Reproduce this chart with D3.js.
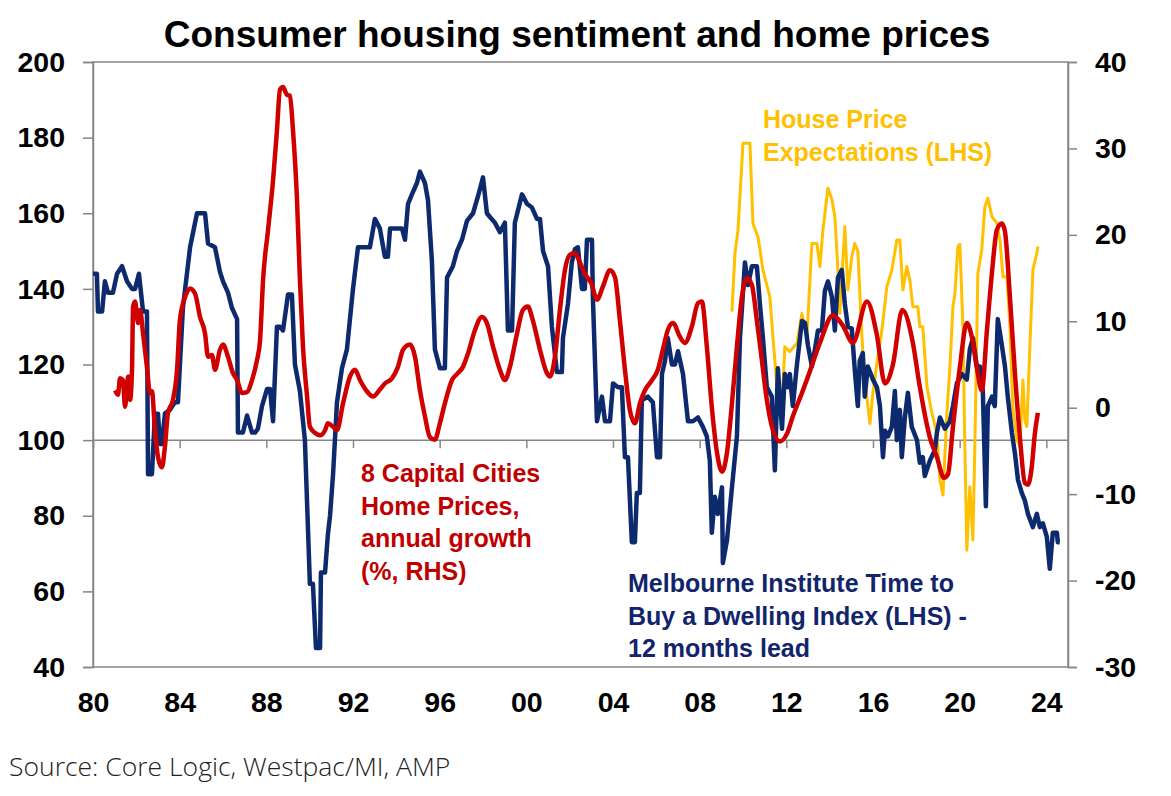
<!DOCTYPE html>
<html>
<head>
<meta charset="utf-8">
<script src="https://cdn.jsdelivr.net/npm/d3@7"></script>
<style>
  body { margin: 0; background: #fff; }
  text { font-family: Arial, "Liberation Sans", sans-serif; }
</style>
</head>
<body>
<script>
// Melbourne Institute time to buy a dwelling, 12 months lead (LHS)
var navy = [
  [1980.00,144],[1980.18,144],[1980.23,134],[1980.42,134],[1980.55,142],[1980.69,139],[1980.92,139],
  [1981.11,144],[1981.34,146],[1981.57,142],[1981.80,140],[1981.94,140],[1982.12,144],[1982.31,134],
  [1982.49,134],[1982.54,91],[1982.72,91],[1982.86,107],[1983.00,107],[1983.09,99],[1983.18,99],
  [1983.32,107],[1983.55,108],[1983.78,110],[1983.92,110],[1984.15,135],[1984.48,151],[1984.80,160],
  [1985.17,160],[1985.31,152],[1985.63,151],[1985.86,144.5],[1986.00,142],[1986.23,139],[1986.41,135],
  [1986.65,132],[1986.69,102],[1986.92,102],[1987.11,106.5],[1987.34,102],[1987.48,102],[1987.61,103],
  [1987.80,109],[1988.03,113.5],[1988.17,113.5],[1988.31,105],[1988.49,130],[1988.63,130],[1988.77,129],
  [1989.00,138.5],[1989.18,138.5],[1989.32,120],[1989.55,113],[1989.78,100],[1990.01,62],[1990.15,62],
  [1990.29,45],[1990.48,45],[1990.52,65],[1990.71,65],[1990.84,75],[1990.94,80],[1991.08,91],
  [1991.26,110],[1991.49,119],[1991.72,124],[1992.00,140],[1992.23,151],[1992.78,151],[1993.01,158.5],
  [1993.24,156],[1993.47,148.5],[1993.61,148.5],[1993.71,156],[1994.26,156],[1994.40,153],[1994.54,162.5],
  [1994.72,165],[1994.95,168],[1995.09,171],[1995.32,168],[1995.46,163.5],[1995.64,147.5],[1995.78,124],
  [1996.01,119],[1996.24,119],[1996.34,143],[1996.61,146],[1996.80,150],[1997.03,153],[1997.26,158],
  [1997.54,160],[1997.77,164.5],[1998.00,169.5],[1998.18,160],[1998.32,159],[1998.55,157.5],[1998.78,155],
  [1999.01,157.5],[1999.15,129],[1999.34,129],[1999.47,157.5],[1999.80,165],[2000.03,162.5],[2000.26,161.5],
  [2000.49,158.5],[2000.63,158.5],[2000.77,150],[2001.00,146],[2001.18,130],[2001.41,118],[2001.64,118],
  [2001.69,127],[2001.92,136],[2002.10,147],[2002.24,150.5],[2002.38,151],[2002.57,140],[2002.70,140],
  [2002.80,153],[2003.03,153],[2003.07,138],[2003.26,105],[2003.49,111.5],[2003.63,105],[2003.86,105],
  [2004.00,115],[2004.23,114],[2004.41,114],[2004.55,95.5],[2004.69,95.5],[2004.87,73],[2005.01,73],
  [2005.10,86],[2005.24,86],[2005.33,110.5],[2005.61,111.5],[2005.84,110],[2006.03,95.5],[2006.17,95.5],
  [2006.26,117.5],[2006.40,121],[2006.53,127],[2006.72,120],[2006.86,120],[2007.00,123.5],[2007.23,117.5],
  [2007.46,105],[2007.69,105],[2007.92,106],[2008.15,103.5],[2008.33,101],[2008.47,94.5],[2008.56,75.5],
  [2008.70,85],[2008.84,80.5],[2009.03,87.5],[2009.07,67.5],[2009.26,73.5],[2009.49,87.5],[2009.72,101],
  [2009.86,127],[2010.09,147],[2010.23,141],[2010.41,146],[2010.64,146],[2010.78,136],[2010.92,127],
  [2011.10,114],[2011.33,111.5],[2011.47,92],[2011.61,119],[2011.80,103],[2011.93,117.5],[2012.07,114],
  [2012.16,117.5],[2012.30,109],[2012.49,120],[2012.72,131.5],[2012.86,131],[2013.00,125],[2013.18,119.5],
  [2013.32,124],[2013.46,129],[2013.64,129],[2013.78,139.5],[2013.92,142],[2014.10,138],[2014.24,129],
  [2014.38,143],[2014.56,145],[2014.70,136],[2014.84,130],[2015.02,129.5],[2015.16,118.5],[2015.30,109],
  [2015.39,121],[2015.53,123],[2015.62,111.5],[2015.76,119.5],[2016.00,116],[2016.18,114],[2016.32,109],
  [2016.46,95.5],[2016.55,102.5],[2016.69,101],[2016.87,103.5],[2017.01,113],[2017.10,100],[2017.24,108],
  [2017.33,95.5],[2017.47,106],[2017.61,112.5],[2017.79,103.5],[2018.03,100],[2018.16,94],[2018.30,95.5],
  [2018.39,90.5],[2018.62,94.5],[2018.86,97.5],[2018.95,102],[2019.09,106],[2019.32,103],[2019.55,105],
  [2019.69,109],[2019.87,115],[2020.10,117.5],
  [2020.33,116],[2020.47,124],[2020.61,127],[2020.79,119.5],[2020.93,119.5],[2021.07,113],[2021.21,82.5],
  [2021.30,109],[2021.49,111.5],[2021.62,109],[2021.76,132],[2021.95,125],[2022.09,119.5],[2022.22,111.5],
  [2022.41,102],[2022.55,96.5],[2022.69,89.5],[2022.87,86],[2023.01,84],[2023.15,80.5],[2023.38,77],
  [2023.56,80.5],[2023.70,77],[2023.84,78],[2024.02,74.5],[2024.16,66],[2024.30,75.5],[2024.49,75.5],
  [2024.53,73],[2024.62,73]
];

// 8 capital cities home prices, annual growth % (RHS)
var red = [
  [1981.02,2.0],[1981.15,1.5],[1981.25,3.4],[1981.38,3.2],[1981.48,0.1],[1981.62,3.6],[1981.71,0.9],
  [1981.80,4.4],[1981.85,11.7],[1981.94,12.3],[1982.08,9.8],[1982.17,11.3],[1982.31,8.6],[1982.49,4.7],
  [1982.63,1.7],[1982.72,1.9],[1982.86,-2.6],[1983.00,-5.7],[1983.18,-6.9],[1983.32,-4.5],[1983.46,-0.6],
  [1983.69,0.9],[1983.88,4.4],[1984.01,10.1],[1984.25,12.8],[1984.48,13.8],[1984.71,13.2],[1984.94,10.5],
  [1985.17,8.6],[1985.31,5.9],[1985.49,6.1],[1985.63,4.4],[1985.86,6.7],[1986.00,7.3],[1986.23,5.9],
  [1986.46,4.0],[1986.65,3.2],[1986.88,1.7],[1987.11,1.8],[1987.34,3.2],[1987.57,5.5],[1987.71,7.8],
  [1987.85,14.8],[1988.08,20.6],[1988.31,26.3],[1988.49,32.1],[1988.63,36.8],[1988.77,37.1],[1988.95,36.2],
  [1989.09,36.1],[1989.23,32.1],[1989.41,24.4],[1989.55,14.8],[1989.69,7.1],[1989.88,1.3],[1990.01,-2.2],
  [1990.24,-2.9],[1990.48,-3.2],[1990.71,-2.6],[1990.84,-1.8],[1991.08,-2.2],[1991.26,-2.6],[1991.54,0.5],
  [1991.86,3.6],[1992.09,4.4],[1992.32,3.2],[1992.64,1.9],[1992.92,1.3],[1993.24,2.1],[1993.47,2.8],
  [1993.80,3.4],[1994.07,4.7],[1994.31,6.7],[1994.63,7.3],[1994.86,5.9],[1995.09,2.0],[1995.32,-1.0],
  [1995.55,-3.4],[1995.78,-3.7],[1996.01,-1.8],[1996.24,0.5],[1996.57,3.2],[1996.84,4.0],[1997.07,4.7],
  [1997.31,6.3],[1997.63,9.0],[1997.95,10.5],[1998.18,9.8],[1998.46,7.1],[1998.78,4.4],[1999.01,3.2],
  [1999.24,4.7],[1999.57,8.6],[1999.84,11.3],[2000.07,11.7],[2000.30,10.1],[2000.63,6.7],[2000.95,4.0],
  [2001.09,3.6],[2001.32,5.9],[2001.55,11.3],[2001.78,15.9],[2002.01,17.7],[2002.24,17.9],[2002.47,16.8],
  [2002.70,15.5],[2003.00,14.4],[2003.26,12.5],[2003.53,14.0],[2003.86,15.9],[2004.09,15.1],[2004.32,10.1],
  [2004.55,4.4],[2004.78,-0.3],[2005.01,-1.8],[2005.24,0.5],[2005.47,2.0],[2005.80,3.2],[2006.07,4.4],
  [2006.30,6.7],[2006.53,9.0],[2006.77,9.8],[2007.09,8.2],[2007.32,7.5],[2007.64,9.4],[2007.92,12.1],
  [2008.10,12.3],[2008.33,7.1],[2008.56,0.1],[2008.80,-5.2],[2009.03,-7.4],[2009.26,-5.2],[2009.49,0.5],
  [2009.72,7.1],[2009.95,12.8],[2010.18,15.0],[2010.41,14.2],[2010.64,10.1],[2010.87,5.5],[2011.10,0.9],
  [2011.38,-2.6],[2011.70,-3.9],[2012.03,-3.0],[2012.30,-1.0],[2012.72,1.7],[2013.00,3.6],[2013.55,7.5],
  [2014.15,10.7],[2014.61,9.5],[2015.07,7.5],[2015.72,12.3],[2016.18,8.4],[2016.55,2.8],[2016.92,5.0],
  [2017.35,11.3],[2017.84,7.5],[2018.16,2.4],[2018.62,-3.4],[2018.95,-5.7],[2019.27,-8.1],[2019.46,-7.7],
  [2019.69,-2.2],[2020.01,4.7],[2020.33,9.8],[2020.56,8.2],[2020.79,4.7],[2021.02,2.0],[2021.26,9.0],
  [2021.49,15.6],[2021.72,20.6],[2021.95,21.3],[2022.09,20.4],[2022.32,12.8],[2022.55,4.0],[2022.78,-3.4],
  [2023.01,-8.7],[2023.15,-8.9],[2023.33,-6.8],[2023.47,-3.0],[2023.61,-0.6]
];

// house price expectations (LHS)
var orange = [
  [2009.49,134],[2009.63,149.5],[2009.77,155.6],[2010.00,178.5],[2010.32,178.5],[2010.46,157.3],
  [2010.69,153.8],[2010.92,145],[2011.24,137.9],[2011.38,127.3],[2011.56,115],[2011.80,108.8],
  [2011.93,124.7],[2012.16,123.4],[2012.49,125.6],[2012.72,133.5],[2012.95,127.3],[2013.18,152],
  [2013.41,152],[2013.55,145.9],[2013.69,155.6],[2013.92,166.6],[2014.10,163.7],[2014.24,159.1],
  [2014.38,145],[2014.47,133.5],[2014.70,156.4],[2014.84,139.7],[2015.02,148.5],[2015.16,152],
  [2015.30,150],[2015.49,127.3],[2015.62,115.9],[2015.86,104.4],[2016.00,112.8],[2016.18,120.3],
  [2016.41,129.1],[2016.64,140.6],[2016.87,145],[2017.10,152.9],[2017.24,152.9],[2017.38,139.7],
  [2017.56,145.9],[2017.70,142.4],[2017.84,135.3],[2018.07,135.3],[2018.16,130],[2018.30,130],
  [2018.49,114.1],[2018.72,107.1],[2018.95,101.8],[2019.09,89.4],[2019.23,85.5],[2019.41,107.1],
  [2019.55,119.4],[2019.69,135.3],[2019.78,138.8],[2019.92,151.2],[2020.01,151.8],[2020.15,130],
  [2020.24,98.3],[2020.33,70.9],[2020.47,87.7],[2020.61,73.6],[2020.70,98.3],[2020.84,144.1],
  [2021.02,150.3],[2021.16,161.7],[2021.30,164],[2021.49,159.1],[2021.72,157.3],[2021.86,152.9],
  [2022.00,143.2],[2022.18,143.2],[2022.32,130],[2022.45,108.8],[2022.64,100],[2022.78,98.3],
  [2022.92,115.9],[2023.01,105.3],[2023.10,103.6],[2023.24,124.7],[2023.38,145],[2023.56,149.4],
  [2023.61,151.2]
];

var xTicks = [1980,1984,1988,1992,1996,2000,2004,2008,2012,2016,2020,2024];
var leftTicks = [40,60,80,100,120,140,160,180,200];
var rightTicks = [-30,-20,-10,0,10,20,30,40];

var width = 1171, height = 796;
var plotLeft = 93, plotRight = 1068, plotTop = 62, plotBottom = 667;

var svg = d3.select("body").append("svg")
  .attr("width", width)
  .attr("height", height);

var x = d3.scaleLinear().domain([1980, 2025]).range([plotLeft, plotRight]);
var yL = d3.scaleLinear().domain([40, 200]).range([plotBottom, plotTop]);
var yR = d3.scaleLinear().domain([-30, 40]).range([plotBottom, plotTop]);

var axisColor = "#868686";

// title
svg.append("text")
  .attr("x", 577).attr("y", 47)
  .attr("text-anchor", "middle")
  .attr("font-size", 37).attr("font-weight", "bold")
  .text("Consumer housing sentiment and home prices");

// plot frame
svg.append("rect")
  .attr("x", plotLeft).attr("y", plotTop)
  .attr("width", plotRight - plotLeft).attr("height", plotBottom - plotTop)
  .attr("fill", "none")
  .attr("stroke", axisColor).attr("stroke-width", 1.5);

// left axis
var gL = svg.append("g")
  .attr("transform", "translate(" + plotLeft + ",0)")
  .call(d3.axisLeft(yL).tickValues(leftTicks).tickSize(10).tickPadding(18));
// right axis
var gR = svg.append("g")
  .attr("transform", "translate(" + plotRight + ",0)")
  .call(d3.axisRight(yR).tickValues(rightTicks).tickSize(9).tickPadding(18)
    .tickFormat(function(d) { return d < 0 ? "-" + Math.abs(d) : d; }));
// x ticks sit on the 100 line, labels at the bottom
var gX = svg.append("g")
  .attr("transform", "translate(0," + yL(100) + ")")
  .call(d3.axisBottom(x).tickValues(xTicks).tickSize(8).tickFormat(""));
var gXl = svg.append("g")
  .attr("transform", "translate(0," + plotBottom + ")")
  .call(d3.axisBottom(x).tickValues(xTicks).tickSize(0).tickPadding(25)
    .tickFormat(function(d) { return String(d % 100).padStart(2, "0"); }));

[gL, gR, gX, gXl].forEach(function(g) {
  g.select(".domain").attr("stroke", axisColor).attr("stroke-width", 1.5);
  g.selectAll(".tick line").attr("stroke", axisColor).attr("stroke-width", 1.5);
  g.selectAll(".tick text")
    .attr("font-size", 28.5).attr("font-weight", "bold")
    .attr("fill", "#000")
    .style("font-family", "Arial, 'Liberation Sans', sans-serif");
});
gXl.select(".domain").remove();
gX.select(".domain").remove();

// 100 line
svg.append("line")
  .attr("x1", plotLeft).attr("x2", plotRight)
  .attr("y1", yL(100)).attr("y2", yL(100))
  .attr("stroke", axisColor).attr("stroke-width", 1.5);

var lineL = d3.line().x(function(d) { return x(d[0]); }).y(function(d) { return yL(d[1]); });
var lineR = d3.line().x(function(d) { return x(d[0]); }).y(function(d) { return yR(d[1]); })
  .curve(d3.curveMonotoneX);

svg.append("path").datum(orange)
  .attr("d", lineL).attr("fill", "none")
  .attr("stroke", "#FFC000").attr("stroke-width", 3).attr("stroke-linejoin", "round");
svg.append("path").datum(navy)
  .attr("d", lineL).attr("fill", "none")
  .attr("stroke", "#0E2A6E").attr("stroke-width", 4.5).attr("stroke-linejoin", "round");
svg.append("path").datum(red)
  .attr("d", lineR).attr("fill", "none")
  .attr("stroke", "#D00000").attr("stroke-width", 4.5).attr("stroke-linejoin", "round");

// annotations
function label(lines, x0, y0, color) {
  var t = svg.append("text")
    .attr("x", x0).attr("y", y0)
    .attr("font-size", 25).attr("font-weight", "bold")
    .attr("fill", color);
  lines.forEach(function(s, i) {
    t.append("tspan").attr("x", x0).attr("dy", i === 0 ? 0 : 32.5).text(s);
  });
}
label(["House Price", "Expectations (LHS)"], 763, 128, "#FFC000");
label(["8 Capital Cities", "Home Prices,", "annual growth", "(%, RHS)"], 361, 482, "#C00000");
label(["Melbourne Institute Time to", "Buy a Dwelling Index (LHS) -", "12 months lead"], 628, 592, "#12256B");

svg.append("text")
  .attr("x", 9).attr("y", 776)
  .attr("font-size", 26.5)
  .style("font-family", "'Open Sans', sans-serif")
  .attr("font-weight", 300)
  .attr("fill", "#222")
  .text("Source: Core Logic, Westpac/MI, AMP");
</script>
</body>
</html>
